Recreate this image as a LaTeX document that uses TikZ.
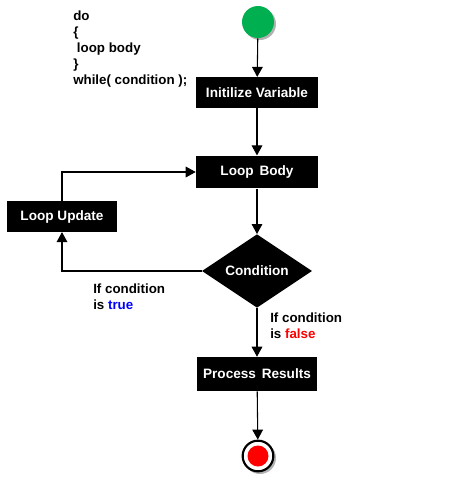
\documentclass[tikz,border=0pt]{standalone}
\usepackage{fontspec}
\setmainfont{Liberation Sans}
\usetikzlibrary{shapes.geometric,arrows.meta}
\begin{document}
\begin{tikzpicture}[x=0.75pt,y=-0.75pt,
  every node/.style={font=\bfseries\fontsize{10}{12}\selectfont},
  boxfont/.style={font=\bfseries\fontsize{10.2}{12}\selectfont},
  blackbox/.style={boxfont,fill=black,text=white,inner sep=0pt,minimum width=91.5pt,minimum height=23pt},
  flow/.style={line width=0.8pt,-{Triangle[length=7.5pt,width=8pt]}},
  conn/.style={line width=0.8pt}]
\useasboundingbox (0,0) rectangle (456,483);
% code
\node[anchor=north west,align=left,inner sep=0pt] (code) at (73,11)
  {do\\\{\\\ loop body\\\}\\while( condition );};
% start
\fill[gray!60] (260,24) circle (16);
\node[circle,fill={rgb,255:red,0;green,176;blue,80},minimum size=24pt,inner sep=0pt] (start) at (258,22) {};
% boxes
\node[blackbox] (init) at (257,92.5) {Initilize Variable};
\node[blackbox,minimum height=24.5pt] (body) at (257,172) {Loop\hspace{1.5pt} Body};
\node[blackbox,minimum width=82pt] (upd) at (62,216.5) {Loop Update};
\node[diamond,boxfont,fill=black,text=white,inner sep=0pt,minimum width=82.5pt,minimum height=54pt] (cond) at (257,271) {Condition};
\node[blackbox,minimum width=90pt,minimum height=25.5pt] (proc) at (257,374) {Process\hspace{1.5pt} Results};
% end
\fill[gray!60] (260,458) circle (16);
\node[circle,draw=black,line width=1.6pt,fill=white,minimum size=23pt,inner sep=0pt] (stop) at (258,456) {};
\fill[red] (stop.center) circle (10.5);
% connectors
\draw[flow] (start) -- (init);
\draw[flow] (init) -- (body);
\draw[flow] (body) -- (cond);
\draw[flow] (cond) -- (proc);
\draw[flow] (proc) -- (stop);
\draw[flow] (upd.north) |- (body.west);
\draw[flow] (cond.west) -| (upd.south);
% labels
\node[anchor=north west,align=left,inner sep=0pt] (ltrue) at (93,284)
  {If condition\\is \textcolor{blue}{true}};
\node[anchor=north west,align=left,inner sep=0pt] (lfalse) at (270,313)
  {If condition\\is \textcolor{red}{false}};
\end{tikzpicture}
\end{document}
